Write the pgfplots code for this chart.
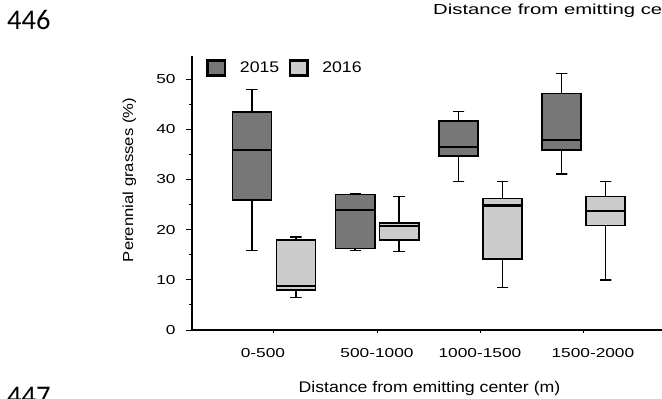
\documentclass[border=0pt]{standalone}
\usepackage{fontspec}
\setmainfont{Liberation Sans}
\newfontfamily\ftick[FakeStretch=1.33]{Liberation Sans}
\newfontfamily\flab[FakeStretch=1.15]{Liberation Sans}
\newfontfamily\ftop[FakeStretch=1.4]{Liberation Sans}
\newfontfamily\fnum{Carlito}
\usepackage{pgfplots}
\pgfplotsset{compat=1.18}
\definecolor{dk}{HTML}{777777}
\definecolor{lt}{HTML}{CCCCCC}
\pgfplotsset{
  wh/.style={black, line width=1.4bp, line join=bevel, mark=none},
  bx/.style={draw=black, line width=1.5bp, mark=none},
  md/.style={black, line width=2.2bp, mark=none},
}
\begin{document}
\begin{tikzpicture}
\useasboundingbox (0bp,0bp) rectangle (662bp,399bp);
\clip (0bp,0bp) rectangle (662bp,399bp);
\begin{axis}[
  at={(191.7bp,69bp)}, anchor=south west,
  scale only axis, width=488.3bp, height=274bp,
  xmin=-0.797, xmax=3.934, ymin=0, ymax=54.6,
  clip=false,
  axis x line=bottom, axis y line=left,
  axis line style={line width=1.8bp, -, black},
  tick align=outside,
  ytick={0,10,...,50}, minor ytick={5,15,...,45},
  major tick length=6bp, minor tick length=3bp,
  tick style={line width=1bp, black},
  xtick={0,1,2,3}, xticklabels={},
  xtick style={/pgfplots/major tick length=3bp},
  /pgf/number format/assume math mode=true,
  yticklabel style={font=\ftick\fontsize{13bp}{15bp}\selectfont, anchor=east, inner sep=0pt, xshift=-10bp},
  legend style={at={(axis cs:-0.6555,52.2)}, anchor=west, draw=none, fill=none,
    inner sep=0pt, outer sep=0pt, legend columns=2,
    font=\flab\fontsize{15.4bp}{18bp}\selectfont,
    nodes={inner sep=0pt},
    /tikz/every odd column/.append style={column sep=13.6bp},
    /tikz/every even column/.append style={column sep=9.4bp}},
]
\addlegendimage{legend image code/.code={\draw[fill=dk, draw=black, line width=2.7bp] (1.35bp,-7.65bp) rectangle (18.65bp,7.65bp);}}
\addlegendentry{2015}
\addlegendimage{legend image code/.code={\draw[fill=lt, draw=black, line width=2.7bp] (1.35bp,-7.65bp) rectangle (18.65bp,7.65bp);}}
\addlegendentry{2016}

% ---- 2015 ----
% 0-500: lw 15.9, q1 25.9, med 35.9, q3 43.4, uw 47.9
\addplot[wh] coordinates {(-0.268,47.9) (-0.158,47.9) (-0.213,47.9) (-0.213,43.4)};
\addplot[wh] coordinates {(-0.268,15.9) (-0.158,15.9) (-0.213,15.9) (-0.213,25.9)};
\addplot[bx, fill=dk] coordinates {(-0.403,25.9) (-0.023,25.9) (-0.023,43.4) (-0.403,43.4)} -- cycle;
\addplot[md] coordinates {(-0.403,35.9) (-0.023,35.9)};
% 500-1000: 15.9, 16.2, 23.9, 27.0, 27.1
\addplot[wh] coordinates {(0.732,27.1) (0.842,27.1) (0.787,27.1) (0.787,27.0)};
\addplot[wh] coordinates {(0.732,15.9) (0.842,15.9) (0.787,15.9) (0.787,16.2)};
\addplot[bx, fill=dk] coordinates {(0.597,16.2) (0.977,16.2) (0.977,27.0) (0.597,27.0)} -- cycle;
\addplot[md] coordinates {(0.597,23.9) (0.977,23.9)};
% 1000-1500: 29.6, 34.7, 36.5, 41.6, 43.6
\addplot[wh] coordinates {(1.732,43.6) (1.842,43.6) (1.787,43.6) (1.787,41.6)};
\addplot[wh] coordinates {(1.732,29.6) (1.842,29.6) (1.787,29.6) (1.787,34.7)};
\addplot[bx, fill=dk] coordinates {(1.597,34.7) (1.977,34.7) (1.977,41.6) (1.597,41.6)} -- cycle;
\addplot[md] coordinates {(1.597,36.5) (1.977,36.5)};
% 1500-2000: 31.1, 35.9, 37.9, 47.1, 51.1
\addplot[wh] coordinates {(2.732,51.1) (2.842,51.1) (2.787,51.1) (2.787,47.1)};
\addplot[wh] coordinates {(2.732,31.1) (2.842,31.1) (2.787,31.1) (2.787,35.9)};
\addplot[bx, fill=dk] coordinates {(2.597,35.9) (2.977,35.9) (2.977,47.1) (2.597,47.1)} -- cycle;
\addplot[md] coordinates {(2.597,37.9) (2.977,37.9)};

% ---- 2016 ----
% 0-500: 6.5, 8.0, 8.8, 17.9, 18.5
\addplot[wh] coordinates {(0.158,18.5) (0.268,18.5) (0.213,18.5) (0.213,17.9)};
\addplot[wh] coordinates {(0.158,6.5) (0.268,6.5) (0.213,6.5) (0.213,8.0)};
\addplot[bx, fill=lt] coordinates {(0.023,8.0) (0.403,8.0) (0.403,17.9) (0.023,17.9)} -- cycle;
\addplot[md] coordinates {(0.023,8.8) (0.403,8.8)};
% 500-1000: 15.6, 17.9, 20.8, 21.3, 26.6
\addplot[wh] coordinates {(1.158,26.6) (1.268,26.6) (1.213,26.6) (1.213,21.3)};
\addplot[wh] coordinates {(1.158,15.6) (1.268,15.6) (1.213,15.6) (1.213,17.9)};
\addplot[bx, fill=lt] coordinates {(1.023,17.9) (1.403,17.9) (1.403,21.3) (1.023,21.3)} -- cycle;
\addplot[md] coordinates {(1.023,20.8) (1.403,20.8)};
% 1000-1500: 8.5, 14.1, 24.8, 26.2, 29.6
\addplot[wh] coordinates {(2.158,29.6) (2.268,29.6) (2.213,29.6) (2.213,26.2)};
\addplot[wh] coordinates {(2.158,8.5) (2.268,8.5) (2.213,8.5) (2.213,14.1)};
\addplot[bx, fill=lt] coordinates {(2.023,14.1) (2.403,14.1) (2.403,26.2) (2.023,26.2)} -- cycle;
\addplot[md] coordinates {(2.023,24.8) (2.403,24.8)};
% 1500-2000: 10.0, 20.8, 23.7, 26.6, 29.6
\addplot[wh] coordinates {(3.158,29.6) (3.268,29.6) (3.213,29.6) (3.213,26.6)};
\addplot[wh] coordinates {(3.158,10.0) (3.268,10.0) (3.213,10.0) (3.213,20.8)};
\addplot[bx, fill=lt] coordinates {(3.023,20.8) (3.403,20.8) (3.403,26.6) (3.023,26.6)} -- cycle;
\addplot[md] coordinates {(3.023,23.7) (3.403,23.7)};

\node[anchor=base, yshift=-27bp, font=\ftick\fontsize{13bp}{15bp}\selectfont] at (axis cs:-0.107,0) {0-500};
\node[anchor=base, yshift=-27bp, font=\ftick\fontsize{13bp}{15bp}\selectfont] at (axis cs:0.998,0) {500-1000};
\node[anchor=base, yshift=-27bp, font=\ftick\fontsize{13bp}{15bp}\selectfont] at (axis cs:1.996,0) {1000-1500};
\node[anchor=base, yshift=-27bp, font=\ftick\fontsize{13bp}{15bp}\selectfont] at (axis cs:3.09,0) {1500-2000};
\end{axis}
\node[rotate=90, anchor=base, font=\flab\fontsize{14.5bp}{17bp}\selectfont] at (133bp,219bp) {Perennial grasses (\%)};
\node[anchor=base, font=\flab\fontsize{15.4bp}{18bp}\selectfont] at (429.5bp,7bp) {Distance from emitting center (m)};
\node[anchor=base west, inner sep=0pt, font=\ftop\fontsize{14.5bp}{17bp}\selectfont] at (433bp,384bp) {Distance from emitting center (m)};
\node[anchor=base west, inner sep=0pt, font=\fnum\fontsize{28.5bp}{30bp}\selectfont] at (7bp,369bp) {446};
\node[anchor=base west, inner sep=0pt, font=\fnum\fontsize{28.5bp}{30bp}\selectfont] at (7bp,-6bp) {447};
\end{tikzpicture}
\end{document}
